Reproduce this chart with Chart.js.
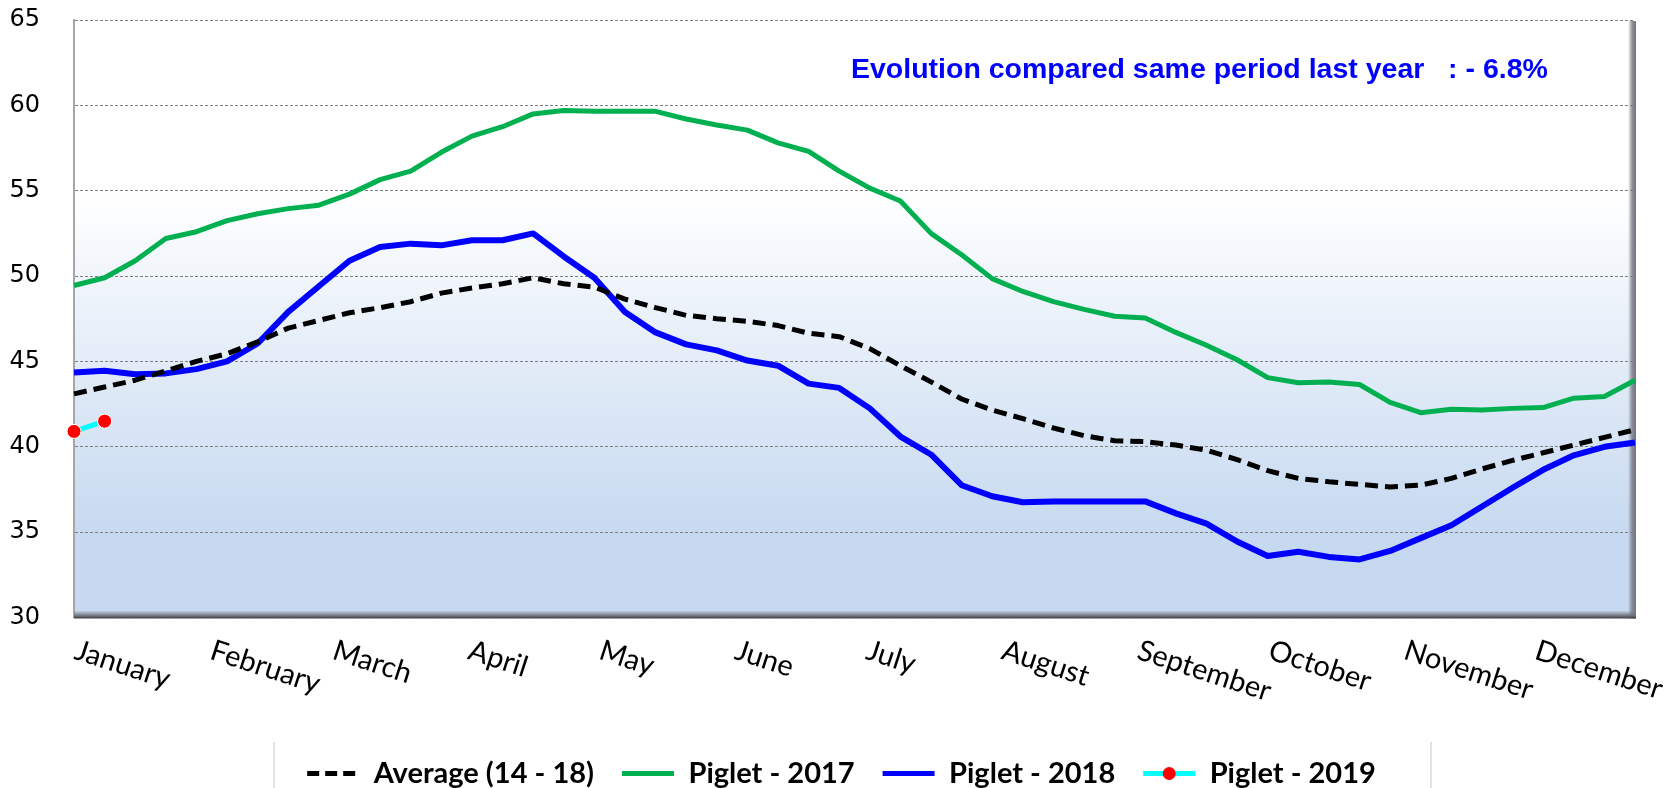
<!DOCTYPE html>
<html>
<head>
<meta charset="utf-8">
<script src="https://cdn.jsdelivr.net/npm/chart.js@4.4.1/dist/chart.umd.min.js"></script>
<style>
  html, body { margin: 0; padding: 0; background: #fff; }
</style>
</head>
<body>
<canvas id="chartCanvas" width="1669" height="788"></canvas>
<script>
// weekly categories (week of year)
const weeks = [1, 2, 3, 4, 5, 6, 7, 8, 9, 10, 11, 12, 13, 14, 15, 16, 17, 18, 19, 20,
    21, 22, 23, 24, 25, 26, 27, 28, 29, 30, 31, 32, 33, 34, 35, 36, 37, 38, 39, 40,
    41, 42, 43, 44, 45, 46, 47, 48, 49, 50, 51, 52];

// month labels and the week where each month starts
const monthNames = ['January', 'February', 'March', 'April', 'May', 'June',
    'July', 'August', 'September', 'October', 'November', 'December'];
const monthStartWeek = [0, 4.43, 8.43, 12.86, 17.14, 21.57, 25.86, 30.29, 34.71, 39, 43.43, 47.71];

const yMin = 30;
const yMax = 65;
const yStep = 5;

const average = [43.1, 43.5, 43.9, 44.45, 45.0, 45.45, 46.15, 46.95, 47.4, 47.85,
    48.15, 48.5, 49.0, 49.3, 49.55, 49.9, 49.55, 49.35, 48.65, 48.15,
    47.7, 47.5, 47.35, 47.1, 46.65, 46.45, 45.75, 44.75, 43.8, 42.8,
    42.15, 41.65, 41.1, 40.65, 40.35, 40.3, 40.1, 39.8, 39.25, 38.6,
    38.15, 37.95, 37.8, 37.65, 37.75, 38.15, 38.7, 39.2, 39.65, 40.1,
    40.55, 41.0];

const piglet2017 = [49.45, 49.9, 50.9, 52.2, 52.6, 53.25, 53.65, 53.95, 54.15, 54.8,
    55.65, 56.15, 57.25, 58.2, 58.75, 59.5, 59.7, 59.65, 59.65, 59.65,
    59.2, 58.85, 58.55, 57.8, 57.3, 56.15, 55.15, 54.4, 52.5, 51.25,
    49.85, 49.1, 48.5, 48.05, 47.65, 47.55, 46.7, 45.95, 45.1, 44.05,
    43.75, 43.8, 43.65, 42.6, 42.0, 42.2, 42.15, 42.25, 42.3, 42.85,
    42.95, 43.9];

const piglet2018 = [44.35, 44.45, 44.25, 44.3, 44.55, 45.0, 46.05, 47.9, 49.4, 50.9,
    51.7, 51.9, 51.8, 52.1, 52.1, 52.5, 51.15, 49.9, 47.9, 46.7,
    46.0, 45.65, 45.05, 44.75, 43.7, 43.45, 42.25, 40.6, 39.55, 37.75,
    37.1, 36.75, 36.8, 36.8, 36.8, 36.8, 36.1, 35.5, 34.45, 33.6,
    33.85, 33.55, 33.4, 33.9, 34.65, 35.4, 36.5, 37.6, 38.65, 39.5,
    40.0, 40.25];

const piglet2019 = [40.9, 41.5];

const evolutionText = 'Evolution compared same period last year   : - 6.8%';

const LEGEND_FONT = 29;
const LEGEND_PAD = 28;
// legend height as chart.js computes it for one row
const LEGEND_H = LEGEND_FONT + LEGEND_PAD + 10;

// background gradient, shadows, month labels, note and legend frame
const plotDecor = {
    id: 'plotDecor',
    afterLayout(chart) {
        // nudge the legend row to where the original sits
        const lg = chart.legend;
        lg.left += 24; lg.right += 24;
        lg.top += 10; lg.bottom += 10;
    },
    beforeDraw(chart) {
        const { ctx, chartArea: a } = chart;
        const g = ctx.createLinearGradient(0, a.top, 0, a.bottom);
        g.addColorStop(0, '#ffffff');
        g.addColorStop(0.29, '#ffffff');
        g.addColorStop(0.86, '#c6d9f0');
        g.addColorStop(1, '#c6d9f0');
        ctx.save();
        ctx.fillStyle = g;
        ctx.fillRect(a.left, a.top, a.right - a.left, a.bottom - a.top);
        ctx.restore();
    },
    beforeDatasetsDraw(chart) {
        const { ctx, chartArea: a } = chart;
        ctx.save();
        // right edge shadow
        let g = ctx.createLinearGradient(a.right - 7, 0, a.right + 1, 0);
        g.addColorStop(0, 'rgba(120,120,130,0)');
        g.addColorStop(0.5, 'rgba(120,120,130,0.8)');
        g.addColorStop(1, 'rgba(110,115,125,1)');
        ctx.fillStyle = g;
        ctx.fillRect(a.right - 7, a.top + 1, 8, a.bottom - a.top);
        // bottom edge shadow
        g = ctx.createLinearGradient(0, a.bottom - 7, 0, a.bottom + 1);
        g.addColorStop(0, 'rgba(120,120,130,0)');
        g.addColorStop(0.6, 'rgba(110,115,125,0.9)');
        g.addColorStop(1, 'rgba(60,60,60,1)');
        ctx.fillStyle = g;
        ctx.fillRect(a.left, a.bottom - 7, a.right - a.left + 1, 8);
        ctx.restore();
    },
    afterDraw(chart) {
        const { ctx, chartArea: a } = chart;
        const xs = chart.scales.x;
        ctx.save();

        // rotated month labels
        ctx.font = '29px Lato';
        ctx.fillStyle = '#000';
        ctx.textAlign = 'left';
        ctx.textBaseline = 'alphabetic';
        monthNames.forEach((m, i) => {
            const x = xs.getPixelForValue(monthStartWeek[i]);
            ctx.save();
            ctx.translate(x - 1, a.bottom + 41);
            ctx.rotate(18 * Math.PI / 180);
            ctx.fillText(m, 0, 0);
            ctx.restore();
        });

        // evolution note
        ctx.font = 'bold 28.5px "Liberation Sans"';
        ctx.fillStyle = '#0000ff';
        ctx.textBaseline = 'middle';
        ctx.fillText(evolutionText, a.left + 777, a.top + 50);

        // legend frame
        const lg = chart.legend;
        ctx.strokeStyle = '#d9d9d9';
        ctx.lineWidth = 1.5;
        ctx.beginPath();
        ctx.moveTo(274, 742);
        ctx.lineTo(274, chart.height);
        ctx.moveTo(1431, 742);
        ctx.lineTo(1431, chart.height);
        ctx.stroke();

        // red marker on the 2019 legend sample
        const hb = lg.legendHitBoxes[3];
        if (hb) {
            ctx.beginPath();
            ctx.fillStyle = '#ff0000';
            ctx.arc(hb.left + 26, hb.top + LEGEND_FONT / 2, 6.5, 0, Math.PI * 2);
            ctx.fill();
        }
        ctx.restore();
    }
};

const ctx = document.getElementById('chartCanvas').getContext('2d');

const data = {
    labels: weeks,
    datasets: [{
        label: 'Average (14 - 18)',
        data: average,
        borderColor: '#000000',
        backgroundColor: '#000000',
        borderWidth: 5,
        borderDash: [13, 7],
        pointRadius: 0
    }, {
        label: 'Piglet - 2017',
        data: piglet2017,
        borderColor: '#00b050',
        backgroundColor: '#00b050',
        borderWidth: 5,
        pointRadius: 0
    }, {
        label: 'Piglet - 2018',
        data: piglet2018,
        borderColor: '#0000ff',
        backgroundColor: '#0000ff',
        borderWidth: 6,
        pointRadius: 0
    }, {
        label: 'Piglet - 2019',
        data: piglet2019,
        borderColor: '#00ffff',
        backgroundColor: '#ff0000',
        borderWidth: 5,
        pointRadius: 7,
        pointBackgroundColor: '#ff0000',
        pointBorderColor: '#ffffff',
        pointBorderWidth: 1
    }]
};

const config = {
    type: 'line',
    data: data,
    plugins: [plotDecor],
    options: {
        responsive: false,
        animation: false,
        devicePixelRatio: 1,
        layout: {
            padding: { left: 0, right: 34, top: 20, bottom: 0 }
        },
        elements: {
            line: { tension: 0, borderJoinStyle: 'round' }
        },
        scales: {
            x: {
                type: 'category',
                offset: false,
                grid: { display: false },
                border: { display: false },
                ticks: { display: false },
                afterFit: function(scale) {
                    scale.height = 788 - 20 - 597.5 - LEGEND_H;
                }
            },
            y: {
                min: yMin,
                max: yMax,
                grid: {
                    color: '#7f7f7f',
                    lineWidth: 1,
                    drawTicks: false
                },
                border: {
                    display: true,
                    color: '#a6a6a6',
                    width: 2,
                    dash: [3, 2]
                },
                ticks: {
                    stepSize: yStep,
                    padding: 34,
                    color: '#000',
                    font: { family: 'DejaVu Sans', size: 24 }
                },
                afterFit: function(scale) {
                    scale.width = 74;
                    scale.paddingTop = 10;
                    scale.paddingBottom = 10;
                }
            }
        },
        plugins: {
            tooltip: { enabled: false },
            legend: {
                position: 'bottom',
                labels: {
                    color: '#000',
                    font: { family: 'Lato', size: LEGEND_FONT, weight: 'bold' },
                    usePointStyle: true,
                    pointStyleWidth: 52,
                    padding: LEGEND_PAD,
                    generateLabels: function(chart) {
                        const items = Chart.defaults.plugins.legend.labels.generateLabels(chart);
                        items.forEach((it, i) => {
                            const ds = chart.data.datasets[i];
                            it.pointStyle = 'line';
                            it.strokeStyle = ds.borderColor;
                            it.fillStyle = ds.borderColor;
                            it.lineWidth = 5;
                            it.lineDash = i === 0 ? [12, 6] : [];
                        });
                        return items;
                    }
                }
            }
        }
    }
};

const myChart = new Chart(ctx, config);
</script>
</body>
</html>
